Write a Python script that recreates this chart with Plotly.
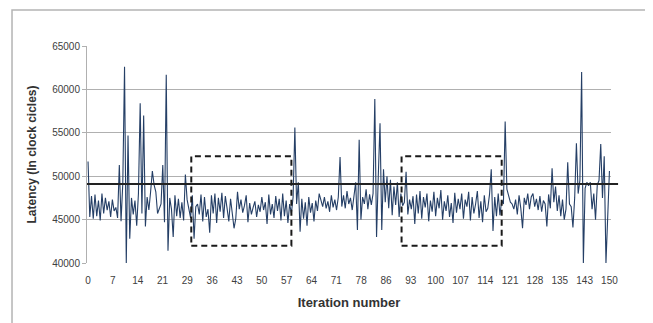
import plotly.graph_objects as go

# Latency per measurement (two samples per iteration, iterations 0..150)
latency = [
    51700, 45300, 47700, 45100, 47900, 45400, 47200, 44900, 48000, 45700,
    47500, 46100, 47100, 45300, 47300, 46000, 46400, 45200, 51300, 44800,
    49200, 62600, 40000, 54700, 42800, 47500, 45600, 47200, 44300, 48000,
    58400, 45700, 57000, 44200, 47600, 46100, 48200, 50600, 49000, 48200,
    45700, 46300, 46800, 51300, 44700, 61700, 41400, 47500, 46200, 43000,
    47800, 45400, 47400, 45200, 47000, 44900, 50200, 47300, 46100, 45200,
    47800, 42800, 46500, 46800, 45600, 47900, 44800, 47600, 45300, 46200,
    43500, 47800, 45700, 48000, 44600, 47500, 45900, 48100, 45200, 47700,
    46300, 44800, 47400, 46000, 44000, 45100, 48200, 46200, 47300, 45800,
    46600, 47800, 44700, 46900, 45600, 46400, 47100, 45300, 46700, 45900,
    47600, 46100, 47000, 44500, 47900, 45600, 46800, 45200, 47700, 46000,
    47400, 44900, 48000, 45400, 47200, 44600, 46800, 45700, 47600, 55600,
    46800, 49300, 43600, 47400, 45100, 47000, 44300, 47600, 45800, 46900,
    44800, 47200, 46000, 48000, 47200, 46500, 47600, 46300, 47100, 45900,
    47800, 46400, 47300, 46100, 47600, 52200, 46500, 47800, 46300, 48300,
    46800, 47500, 46100, 48000, 49300, 43800, 54200, 45000, 47600, 46800,
    48500, 46200, 47900, 46700, 48000, 58900, 43000, 50000, 56100, 43800,
    50800, 47000, 50000, 46300, 49600, 45500, 48800, 46700, 49300, 45300,
    48000, 46600, 47000, 50500, 45600, 47300, 46200, 47700, 44500, 47900,
    45700, 48300, 45100, 47600, 46400, 48000, 44800, 47200, 45900, 48200,
    45400, 47500, 46300, 48400, 45000, 47100, 46000, 47800, 45300, 46900,
    44600, 48100, 45800, 47400, 46200, 48000, 45100, 47300, 46500, 48200,
    44900, 47600, 45700, 46800, 48300, 45200, 47100, 44700, 47800, 45900,
    46300, 47900, 50800, 43700, 47600, 45400, 48000, 45500, 47200, 46800,
    56300, 48500, 47700, 47000, 46800, 46200, 47300, 45600, 47800, 46300,
    44000, 47500, 46700, 48000, 46200, 47600, 48000, 46500, 47400, 46100,
    47700, 45900, 47200, 46800, 44200, 47900, 46300, 50900, 47000, 48800,
    46000, 47800, 45400, 47300, 45000, 46200, 51600, 46800, 46500, 44100,
    47500, 53800, 48000, 49500, 62000, 40000, 48600, 49300, 48900, 49300,
    46200, 48000, 45000, 49000, 49500, 53700, 47500, 52300, 40000, 45500,
    50600,
]
sample_index = list(range(len(latency)))

tick_labels = ["0", "7", "14", "21", "29", "36", "43", "50", "57", "64", "71",
               "78", "86", "93", "100", "107", "114", "121", "128", "135", "143", "150"]
tick_positions = [k * (len(latency) - 1) / (len(tick_labels) - 1) for k in range(len(tick_labels))]

threshold = 49100
box_x = [(59.4, 117.0), (180.4, 238.0)]
box_y = (42000, 52300)

fig = go.Figure()
fig.add_trace(go.Scatter(
    x=sample_index, y=latency, mode="lines",
    line=dict(color="#253f66", width=1.1),
    showlegend=False, hoverinfo="skip",
))

# threshold line (extends a little past the plot area)
fig.add_shape(type="line", xref="paper", yref="y", x0=0, x1=1.0135,
              y0=threshold, y1=threshold, line=dict(color="#222222", width=2))

for (a, b) in box_x:
    fig.add_shape(type="rect", xref="x", yref="y", x0=a, x1=b,
                  y0=box_y[0], y1=box_y[1],
                  line=dict(color="#1a1a1a", width=2, dash="6px,4px"))

# outer chart border
fig.add_shape(type="rect", xref="paper", yref="paper",
              x0=-0.1431, x1=1.0725, y0=-0.32, y1=1.166,
              line=dict(color="#b4b4b4", width=1.5), layer="below")

fig.update_layout(
    width=645, height=315,
    margin=dict(l=79, r=42, t=38, b=60),
    paper_bgcolor="white", plot_bgcolor="white",
    font=dict(family="Liberation Sans, Arial, sans-serif", size=10, color="#404040"),
)
fig.update_xaxes(
    range=[-0.6, 300.9], tickmode="array", tickvals=tick_positions, ticktext=tick_labels,
    showgrid=False, zeroline=False, showline=False,
    ticks="outside", ticklen=8, tickcolor="rgba(0,0,0,0)",
    tickfont=dict(size=10, color="#404040"),
    title=dict(text="<b>Iteration number</b>", standoff=12,
               font=dict(family="Liberation Sans Narrow, Liberation Sans, Arial", size=13, color="#333333")),
    automargin=False,
)
fig.update_yaxes(
    range=[40000, 65000], dtick=5000, tickformat="d", showgrid=True, gridcolor="#b0b0b0", gridwidth=1,
    zeroline=False, showline=True, linecolor="#b0b0b0", linewidth=1,
    ticks="outside", ticklen=4, tickcolor="#b0b0b0",
    tickfont=dict(size=10, color="#404040"),
    title=dict(text="<b>Latency (In clock cicles)</b>", standoff=12,
               font=dict(family="Liberation Sans, Arial", size=12, color="#333333")),
    automargin=False,
)

fig.write_html("out.html")
